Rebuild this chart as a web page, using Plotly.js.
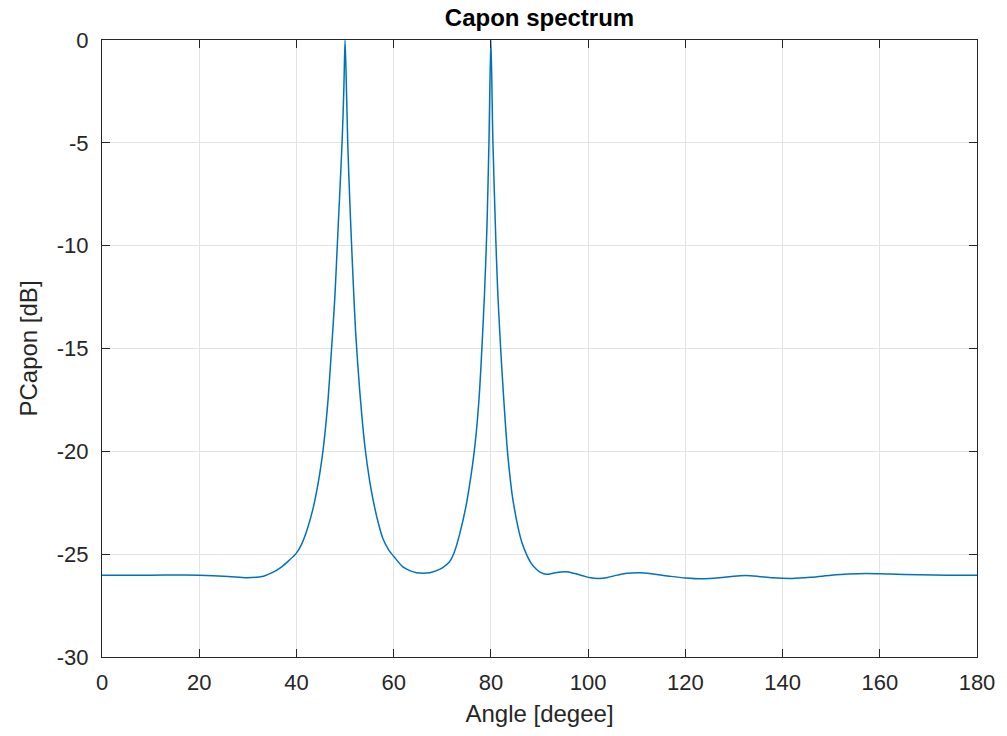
<!DOCTYPE html>
<html>
<head>
<meta charset="utf-8">
<script src="https://cdn.plot.ly/plotly-3.0.1.min.js"></script>
<style>html,body{margin:0;padding:0;background:#fff;}#chart{width:1007px;height:736px;}</style>
</head>
<body>
<div id="chart"></div>
<script>
// Angle [degree] samples
const angle = [0, 10, 20, 26, 29.8, 33.2, 35, 36.6, 38.5, 40, 41, 42, 43.4, 44.5, 45.5, 46, 46.5, 47.2, 47.9, 48.4, 48.9, 49.4, 49.75, 50,
  50.3, 50.55, 51.0, 51.3, 51.7, 52.2, 53.0, 54.1, 55.1, 55.8, 56.8, 57.8, 59.0, 60, 61.9, 63.3, 64.7, 67.4, 68.8, 70.1, 71.5, 72.4,
  73.6, 74.9, 75.6, 76.2, 76.7, 77.2, 77.7, 78.2, 78.7, 79.2, 79.6, 80, 80.4, 81.0, 81.4, 82.0, 82.6, 83.3, 83.8, 84.4, 85.5,
  86.4, 87.3, 88.3, 89.3, 90.3, 91.4, 93.3, 95.5, 97, 98.9, 100.5, 102.3, 104, 106, 108, 110.5, 113, 117, 120, 123.5, 127, 130,
  132.4, 135, 138, 142, 146, 150, 153.5, 157.1, 162, 168, 174, 180];
// Capon spectrum [dB]
const pcapon = [-26.02, -26.02, -26.02, -26.08, -26.15, -26.07, -25.9, -25.68, -25.3, -24.95, -24.55, -23.95, -22.8, -21.5, -19.9, -18.8, -17.5, -15.1, -12.5, -10.0, -7.5, -4.9, -2.4, 0,
  -2.5, -5.0, -8.0, -9.7, -11.9, -14.3, -17.0, -19.8, -21.5, -22.4, -23.45, -24.25, -24.8, -25.1, -25.62, -25.8, -25.9, -25.9, -25.8, -25.65, -25.37, -24.96,
  -24.0, -22.64, -21.66, -20.7, -19.75, -18.55, -16.95, -14.75, -12.25, -9.0, -5.0, 0, -4.8, -9.6, -12.2, -14.96, -17.3, -19.7, -20.95, -22.15, -23.6,
  -24.45, -25.0, -25.45, -25.72, -25.9, -25.98, -25.9, -25.86, -25.93, -26.05, -26.15, -26.18, -26.13, -26.02, -25.93, -25.9, -25.95, -26.08, -26.16, -26.2, -26.15, -26.07,
  -26.04, -26.08, -26.15, -26.18, -26.12, -26.03, -25.97, -25.94, -25.97, -26.0, -26.02, -26.02];

const xTicks = [0, 20, 40, 60, 80, 100, 120, 140, 160, 180];
const yTicks = [-30, -25, -20, -15, -10, -5, 0];

const font = 'Liberation Sans, Arial, sans-serif';
const axisCommon = {
  showline: true, mirror: 'ticks', linecolor: '#262626', linewidth: 1,
  ticks: 'inside', ticklen: 8, tickcolor: '#262626', tickwidth: 1,
  showgrid: true, gridcolor: '#e3e3e3', gridwidth: 1, zeroline: false,
  tickfont: {family: font, size: 22, color: '#262626'}
};

const trace = {
  x: angle, y: pcapon, type: 'scatter', mode: 'lines',
  line: {color: '#0072BD', width: 1.5, shape: 'spline', smoothing: 0.8}, hoverinfo: 'x+y'
};

const layout = {
  width: 1007, height: 736,
  margin: {l: 102, r: 30, t: 40, b: 79},
  paper_bgcolor: '#ffffff', plot_bgcolor: '#ffffff',
  showlegend: false,
  title: {text: '<b>Capon spectrum</b>', font: {family: font, size: 24, color: '#000'}, xref: 'paper', x: 0.5, xanchor: 'center', y: 0.976, yanchor: 'middle'},
  xaxis: Object.assign({}, axisCommon, {
    range: [0, 180], tickvals: xTicks, ticktext: xTicks.map(String), ticklabelstandoff: 6,
    title: {text: 'Angle [degee]', font: {family: font, size: 24, color: '#262626'}, standoff: 10}
  }),
  yaxis: Object.assign({}, axisCommon, {
    range: [-30, 0], tickvals: yTicks, ticktext: yTicks.map(String), ticklabelstandoff: 8,
    title: {text: 'PCapon [dB]', font: {family: font, size: 24, color: '#262626'}, standoff: 12}
  })
};

Plotly.newPlot('chart', [trace], layout, {displayModeBar: false, staticPlot: true});
</script>
</body>
</html>
